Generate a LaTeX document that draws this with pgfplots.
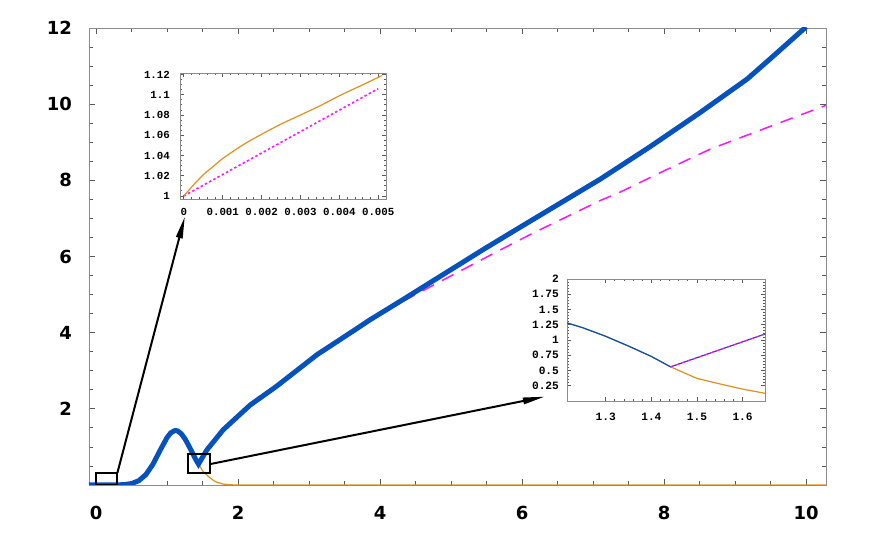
\documentclass[border=0pt]{standalone}
\usepackage{fontspec}
\usepackage{pgfplots}
\pgfplotsset{compat=1.18}
\usetikzlibrary{arrows.meta,calc}
\newfontfamily\tickfont{DejaVu Sans}
\newfontfamily\insetfont{Liberation Mono}
\definecolor{cblue}{RGB}{5,82,190}
\definecolor{corange}{RGB}{222,145,30}
\definecolor{cmag}{RGB}{255,20,255}
\definecolor{cframe}{RGB}{140,140,140}
\pgfplotsset{
  mathframe/.style={
    scale only axis,
    axis line style={cframe},
    tick style={color=black!65,line width=0.4pt},
    tick align=inside,
    scaled ticks=false,
    /pgf/number format/assume math mode=true,
  }
}
\begin{document}
\begin{tikzpicture}
\begin{axis}[
  name=main, mathframe,
  width=368.5pt, height=228.5pt,
  xmin=-0.1, xmax=10.28, ymin=0, ymax=12,
  xtick={0,2,4,6,8,10},
  ytick={0,2,4,6,8,10,12},
  yticklabels={,2,4,6,8,10,12},
  minor x tick num=3, minor y tick num=3,
  major tick length=3pt, minor tick length=1.8pt,
  ticklabel style={font=\tickfont\bfseries\fontsize{9}{10}\selectfont},
  xticklabel style={yshift=-7pt},
  yticklabel style={xshift=-5pt},
]
% orange
\addplot[corange, line width=0.6pt] coordinates {
(0,0) (0.3,0.0025) (0.4,0.011) (0.5,0.038) (0.6,0.111) (0.7,0.27) (0.8,0.543)
(0.9,0.905) (1.0,1.248) (1.05,1.366) (1.1,1.424) (1.12,1.43) (1.15,1.418)
(1.2,1.346) (1.25,1.218) (1.3,1.05) (1.35,0.868) (1.4,0.68) (1.442,0.55)
(1.5,0.37) (1.55,0.28) (1.6,0.195) (1.65,0.125) (1.7,0.07) (1.8,0.02)
(1.9,0.005) (2.0,0) (10.28,0)};
% magenta dashed
\addplot[cmag, line width=0.75pt, dash pattern=on 6.5pt off 4.5pt] coordinates {
(1.442,0.55) (1.56,0.92) (1.79,1.45) (2.17,2.1) (2.54,2.59) (3.11,3.42)
(3.65,4.08) (4.0,4.47) (4.3,4.8) (4.66,5.16) (5.69,6.17) (6.16,6.62)
(7.1,7.47) (7.38,7.69) (8.0,8.25) (8.65,8.82) (9.5,9.42) (10.28,9.97)};
% blue thick
\addplot[cblue, line width=2.5pt] coordinates {
(-0.1,0) (0.3,0.0025) (0.4,0.011) (0.5,0.038) (0.6,0.111) (0.7,0.27) (0.8,0.543)
(0.9,0.905) (1.0,1.248) (1.05,1.366) (1.1,1.424) (1.12,1.43) (1.15,1.418)
(1.2,1.346) (1.25,1.218) (1.3,1.05) (1.35,0.868) (1.4,0.68) (1.442,0.55)
(1.56,0.92) (1.79,1.45) (2.17,2.1) (2.54,2.59) (3.11,3.42) (3.65,4.08)
(3.86,4.34) (4.28,4.82) (5.45,6.18) (6.0,6.8) (7.1,8.03) (7.8,8.88)
(8.5,9.77) (9.17,10.66) (9.5,11.2) (10.0,12.03)};
% zoom boxes and arrows
\draw[black, line width=1pt] (axis cs:0,0) rectangle (axis cs:0.3,0.32);
\draw[black, line width=1pt] (axis cs:1.29,0.32) rectangle (axis cs:1.61,0.82);
\draw[black, line width=1pt, -{Triangle[length=11pt,width=3.2pt]}]
  (axis cs:0.3,0.32) -- (axis cs:1.25,7.05);
\draw[black, line width=1pt, -{Triangle[length=11pt,width=3.2pt]}]
  (axis cs:1.61,0.55) -- (axis cs:6.32,2.32);
\end{axis}
% inset 1
\begin{axis}[
  mathframe,
  at={($(main.south west)+(45.5pt,143pt)$)}, anchor=south west,
  width=103pt, height=63pt,
  axis background/.style={fill=white},
  xmin=-0.0001, xmax=0.0052, ymin=0.997, ymax=1.1215,
  xtick={0,0.001,0.002,0.003,0.004,0.005},
  xticklabels={0,0.001,0.002,0.003,0.004,0.005},
  ytick={1,1.02,1.04,1.06,1.08,1.1,1.12},
  yticklabels={1,1.02,1.04,1.06,1.08,1.1,1.12},
  minor x tick num=4, minor y tick num=3,
  major tick length=2.2pt, minor tick length=1.2pt,
  ticklabel style={font=\insetfont\bfseries\fontsize{5.4}{6.5}\selectfont},
  xticklabel style={yshift=-1pt},
  yticklabel style={xshift=-1.5pt},
]
\addplot[cmag, line width=0.8pt, dash pattern=on 1.2pt off 1.2pt] coordinates {
(0,1.0) (0.0025,1.053) (0.005,1.106)};
\addplot[corange, line width=0.6pt, smooth] coordinates {
(0,1.0) (0.00025,1.011) (0.0005,1.021) (0.00075,1.029) (0.001,1.037)
(0.0015,1.05) (0.002,1.061) (0.0025,1.071) (0.003,1.08) (0.0035,1.089)
(0.004,1.099) (0.0045,1.108) (0.0051,1.119)};
\end{axis}
% inset 2
\begin{axis}[
  mathframe,
  at={($(main.south west)+(239pt,42pt)$)}, anchor=south west,
  width=99.2pt, height=61pt,
  axis background/.style={fill=white},
  xmin=1.215, xmax=1.65, ymin=0, ymax=2,
  xtick={1.3,1.4,1.5,1.6},
  xticklabels={1.3,1.4,1.5,1.6},
  ytick={0.25,0.5,0.75,1,1.25,1.5,1.75,2},
  yticklabels={0.25,0.5,0.75,1,1.25,1.5,1.75,2},
  minor x tick num=4, minor y tick num=4,
  major tick length=2.2pt, minor tick length=1.2pt,
  ticklabel style={font=\insetfont\bfseries\fontsize{5.6}{6.5}\selectfont},
  xticklabel style={yshift=-2.5pt},
  yticklabel style={xshift=-0.5pt},
]
\addplot[corange, line width=0.6pt] coordinates {
(1.215,1.28) (1.25,1.2) (1.3,1.06) (1.35,0.9) (1.4,0.73) (1.442,0.56)
(1.5,0.37) (1.55,0.28) (1.6,0.195) (1.65,0.125)};
\addplot[cblue, line width=0.6pt] coordinates {
(1.215,1.28) (1.25,1.2) (1.3,1.06) (1.35,0.9) (1.4,0.73) (1.442,0.56)
(1.5,0.71) (1.55,0.84) (1.6,0.97) (1.65,1.10)};
\addplot[cmag, line width=0.45pt, dash pattern=on 1.5pt off 1.5pt] coordinates {
(1.442,0.56) (1.5,0.71) (1.55,0.84) (1.6,0.97) (1.65,1.10)};
\end{axis}
\pgfresetboundingbox
\path[use as bounding box] ($(main.south west)+(-44.5pt,-27pt)$) rectangle ($(main.north east)+(23pt,14pt)$);
\end{tikzpicture}
\end{document}
